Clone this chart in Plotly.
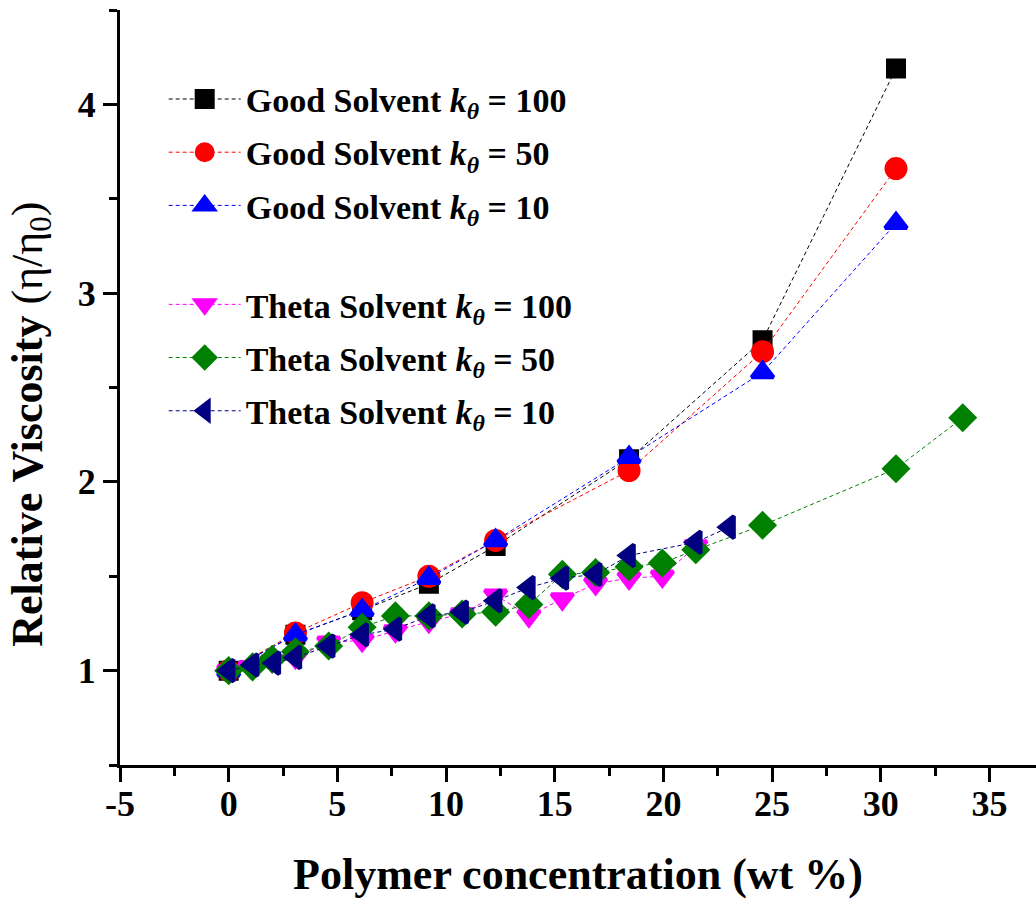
import plotly.graph_objects as go

# Relative viscosity vs polymer concentration (wt %)
good_x = [0.0, 3.07, 6.14, 9.21, 12.28, 18.42, 24.56, 30.70]
good_k100 = [1.00, 1.19, 1.32, 1.46, 1.66, 2.12, 2.75, 4.19]
good_k50 = [1.00, 1.20, 1.36, 1.50, 1.69, 2.06, 2.69, 3.66]
good_k10 = [1.00, 1.19, 1.32, 1.49, 1.69, 2.13, 2.58, 3.37]

theta_k100_x = [0.0, 1.0, 2.0, 3.07, 4.6, 6.14, 7.67, 9.21, 10.74, 12.28, 13.81, 15.35, 16.88, 18.42, 19.95, 21.49]
theta_k100 = [1.00, 1.02, 1.05, 1.07, 1.15, 1.16, 1.21, 1.26, 1.30, 1.40, 1.29, 1.38, 1.46, 1.49, 1.50, 1.66]

theta_k50_x = [0.0, 1.1, 2.0, 3.07, 4.6, 6.14, 7.67, 9.21, 10.74, 12.28, 13.81, 15.35, 16.88, 18.42, 19.95, 21.49, 24.56, 30.70, 33.77]
theta_k50 = [1.00, 1.02, 1.06, 1.10, 1.13, 1.23, 1.29, 1.29, 1.30, 1.31, 1.35, 1.51, 1.52, 1.55, 1.57, 1.64, 1.77, 2.07, 2.34]

theta_k10_x = [0.0, 1.1, 2.1, 3.07, 4.6, 6.14, 7.67, 9.21, 10.74, 12.28, 13.81, 15.35, 16.88, 18.42, 21.49, 23.02]
theta_k10 = [1.00, 1.03, 1.04, 1.07, 1.13, 1.19, 1.22, 1.29, 1.31, 1.37, 1.44, 1.49, 1.51, 1.61, 1.68, 1.76]

x_ticks = [-5, 0, 5, 10, 15, 20, 25, 30, 35]
y_ticks = [1, 2, 3, 4]

SERIF = "Liberation Serif"
KTH = "<i>k</i><sub><i>θ</i></sub>"

series = [
    ("Good Solvent", "100", good_x, good_k100, "black", "square", 16, "legend"),
    ("Good Solvent", "50", good_x, good_k50, "red", "circle", 19, "legend"),
    ("Good Solvent", "10", good_x, good_k10, "blue", "triangle-up", 19, "legend"),
    ("Theta Solvent", "100", theta_k100_x, theta_k100, "magenta", "triangle-down", 19, "legend2"),
    ("Theta Solvent", "50", theta_k50_x, theta_k50, "green", "diamond", 18, "legend2"),
    ("Theta Solvent", "10", theta_k10_x, theta_k10, "navy", "triangle-left", 19, "legend2"),
]

fig = go.Figure()
for i, (solvent, k, xs, ys, color, symbol, size, leg) in enumerate(series):
    fig.add_trace(go.Scatter(
        x=xs, y=ys,
        mode="lines+markers",
        name=f"<b>{solvent} {KTH} = {k}</b>",
        line=dict(color=color, width=1, dash="4px,3px"),
        marker=dict(symbol=symbol, size=size, color=color, line=dict(width=4, color=color)),
        legend=leg,
        legendgroup=f"g{i}",
    ))

axis_font = dict(family=SERIF, size=36, color="black", weight="bold")

fig.update_layout(
    width=1036, height=899,
    margin=dict(l=120, r=0, t=10, b=134),
    paper_bgcolor="white", plot_bgcolor="white",
    font=dict(family=SERIF, color="black"),
    xaxis=dict(
        range=[-5, 37.14], tickvals=x_ticks, ticktext=[str(v) for v in x_ticks],
        showline=True, linewidth=3, linecolor="black",
        ticks="outside", ticklen=14, tickwidth=3, tickcolor="black",
        minor=dict(ticks="outside", ticklen=8, tickwidth=3, tickcolor="black", dtick=2.5),
        showgrid=False, zeroline=False, tickfont=axis_font, ticklabelstandoff=-9,
        title=dict(text="<b>Polymer concentration (wt %)</b>",
                   font=dict(family=SERIF, size=44, color="black"), standoff=38),
    ),
    xaxis2=dict(
        overlaying="x", matches="x", side="top", anchor="y",
        range=[-5, 37.14], tickvals=x_ticks, showticklabels=False,
        showline=True, linewidth=3, linecolor="black",
        ticks="inside", ticklen=12, tickwidth=3, tickcolor="black",
        minor=dict(ticks="inside", ticklen=7, tickwidth=3, tickcolor="black", dtick=2.5),
        showgrid=False, zeroline=False,
    ),
    yaxis=dict(
        range=[0.5, 4.5], tickvals=y_ticks,
        showline=True, linewidth=3, linecolor="black",
        ticks="outside", ticklen=14, tickwidth=3, tickcolor="black",
        minor=dict(ticks="outside", ticklen=8, tickwidth=3, tickcolor="black", dtick=0.5),
        showgrid=False, zeroline=False, tickfont=axis_font,
    ),
    legend=dict(
        x=0.0477, y=0.92, xanchor="left", yanchor="top",
        bgcolor="rgba(0,0,0,0)", font=dict(family=SERIF, size=34, color="black"),
        tracegroupgap=6, itemwidth=72,
    ),
    legend2=dict(
        x=0.0477, y=0.648, xanchor="left", yanchor="top",
        bgcolor="rgba(0,0,0,0)", font=dict(family=SERIF, size=34, color="black"),
        tracegroupgap=6, itemwidth=72,
    ),
    annotations=[dict(
        text="<b>Relative Viscosity</b> (η/η<sub>0</sub>)",
        xref="paper", yref="paper", x=-0.098, y=0.451,
        xanchor="center", yanchor="middle", textangle=-90, showarrow=False,
        font=dict(family=SERIF, size=44, color="black"),
    )],
)

fig.write_html("out.html")
